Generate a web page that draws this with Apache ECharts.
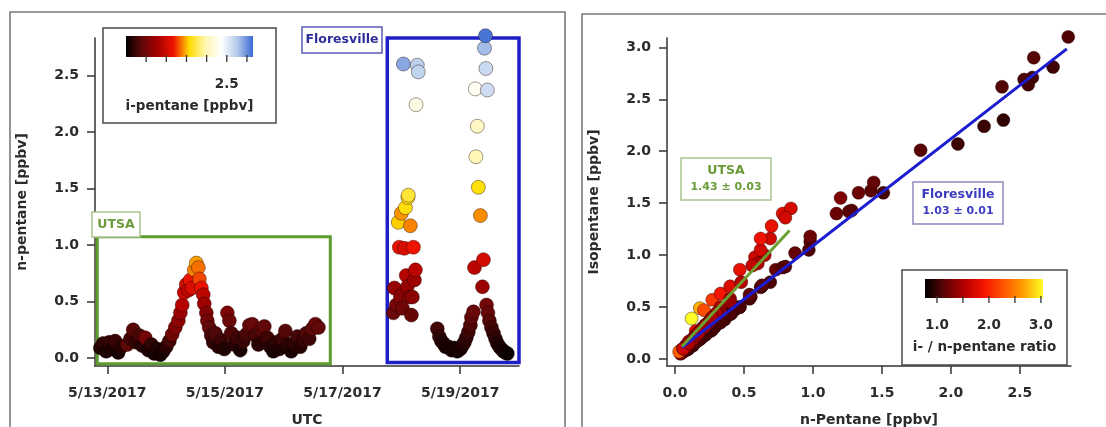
<!DOCTYPE html>
<html>
<head>
<meta charset="utf-8">
<script src="https://cdn.jsdelivr.net/npm/echarts@6/dist/echarts.min.js"></script>
<style>
  html, body { margin: 0; padding: 0; background: #fff; }
  #chart { width: 1106px; height: 427px; }
</style>
</head>
<body>
<div id="chart"></div>
<script>
// ---------- UTSA site: time (UTC, 2017), n-pentane and i-pentane [ppbv] ----------
const utsaTime = ['05-12 21:10','05-12 22:20','05-12 23:35','05-13 00:50','05-13 02:00','05-13 03:15','05-13 04:30','05-13 05:45',
  '05-13 08:10','05-13 09:25','05-13 10:35','05-13 11:50','05-13 13:05','05-13 14:15','05-13 15:30','05-13 16:45','05-13 18:00','05-13 19:10','05-13 20:25','05-13 21:40','05-13 22:50',
  '05-14 00:05','05-14 01:20','05-14 02:30','05-14 03:45','05-14 05:00','05-14 05:50','05-14 06:35','05-14 07:25','05-14 08:15','05-14 09:05','05-14 09:50','05-14 10:40','05-14 11:30','05-14 12:20','05-14 13:10','05-14 13:35','05-14 14:25','05-14 15:10','05-14 15:35','05-14 16:25','05-14 16:50','05-14 17:35','05-14 18:25','05-14 19:15','05-14 20:05','05-14 21:20','05-14 22:30','05-14 23:45',
  '05-15 01:00','05-15 01:50','05-15 02:35','05-15 03:50','05-15 05:05','05-15 06:15','05-15 07:30','05-15 08:45','05-15 10:00','05-15 11:10','05-15 12:25','05-15 13:40','05-15 14:50','05-15 16:05','05-15 17:20','05-15 18:30','05-15 19:45','05-15 21:00','05-15 22:10','05-15 23:25','05-16 00:40','05-16 01:55','05-16 03:05','05-16 04:20','05-16 05:35','05-16 06:45','05-16 08:00','05-16 09:15','05-16 10:25','05-16 11:40','05-16 12:55','05-16 14:10'];
const utsaN = [0.09,0.13,0.06,0.14,0.08,0.15,0.05,0.10,
  0.12,0.17,0.25,0.14,0.20,0.11,0.18,0.07,0.12,0.04,0.08,0.03,0.06,
  0.10,0.15,0.21,0.27,0.33,0.40,0.47,0.58,0.65,0.60,0.69,0.62,0.78,0.84,0.80,0.70,0.62,0.56,0.48,0.40,0.33,0.27,0.20,0.14,0.22,0.10,0.16,0.08,
  0.40,0.33,0.22,0.12,0.18,0.07,0.15,0.21,0.29,0.30,0.20,0.12,0.25,0.28,0.18,0.10,0.06,0.14,0.08,0.17,0.24,0.12,0.06,0.13,0.19,0.10,0.16,0.22,0.17,0.26,0.30,0.27];
const utsaI = [0.13,0.19,0.10,0.21,0.12,0.22,0.09,0.15,
  0.39,0.26,0.36,0.20,0.29,0.16,0.49,0.11,0.18,0.08,0.13,0.07,0.10,
  0.17,0.27,0.47,0.57,0.63,0.70,0.86,0.98,1.00,0.92,1.16,1.05,1.40,1.45,1.36,1.28,1.16,0.90,0.74,0.58,0.50,0.40,0.30,0.21,0.33,0.15,0.24,0.13,
  0.55,0.45,0.31,0.17,0.26,0.11,0.22,0.30,0.41,0.44,0.29,0.17,0.35,0.40,0.26,0.15,0.10,0.20,0.12,0.25,0.35,0.18,0.10,0.19,0.28,0.15,0.23,0.32,0.25,0.38,0.44,0.40];

// ---------- Floresville site ----------
const floresTime = ['05-17 20:45','05-17 21:10','05-17 21:55','05-17 22:45','05-17 23:10','05-17 23:35','05-18 00:00','05-18 00:25','05-18 00:50','05-18 01:15','05-18 01:40','05-18 02:00','05-18 02:25','05-18 02:40','05-18 02:50','05-18 03:15','05-18 03:40','05-18 04:05','05-18 04:30','05-18 04:55','05-18 05:20','05-18 05:45','05-18 06:00','05-18 06:30','05-18 06:55',
  '05-18 14:40','05-18 15:30','05-18 16:20','05-18 17:10','05-18 18:00','05-18 19:10','05-18 20:25','05-18 21:40','05-18 22:50','05-19 00:05','05-19 00:55','05-19 01:45','05-19 02:30','05-19 03:20','05-19 04:10','05-19 04:35','05-19 05:25',
  '05-19 05:50','05-19 06:10','05-19 06:25','05-19 07:00','05-19 07:25','05-19 08:15','05-19 09:05','05-19 09:30','05-19 09:55','05-19 10:20','05-19 10:30','05-19 10:45','05-19 11:05','05-19 11:20','05-19 11:55','05-19 12:45','05-19 13:35','05-19 14:25','05-19 15:10','05-19 16:00','05-19 16:50','05-19 17:40','05-19 18:25','05-19 19:15'];
const floresN = [0.40,0.62,0.47,1.20,0.98,0.55,1.28,0.44,2.60,0.97,1.33,0.73,0.63,1.42,1.44,0.54,1.17,0.38,0.54,0.98,0.69,0.78,2.24,2.59,2.53,
  0.26,0.19,0.15,0.13,0.10,0.10,0.07,0.09,0.06,0.08,0.11,0.14,0.18,0.23,0.29,0.36,0.41,
  0.80,2.38,1.78,2.05,1.51,1.26,0.63,0.87,2.74,2.85,2.56,0.47,2.37,0.40,0.33,0.27,0.22,0.17,0.13,0.10,0.08,0.06,0.05,0.04];
const floresI = [0.45,0.69,0.50,1.55,1.13,0.60,1.43,0.48,2.90,1.05,1.60,0.86,0.70,1.62,1.70,0.58,1.40,0.42,0.62,1.18,0.74,0.88,2.24,2.71,2.69,
  0.27,0.20,0.16,0.13,0.11,0.10,0.08,0.09,0.07,0.09,0.12,0.15,0.19,0.25,0.31,0.38,0.44,
  0.89,2.30,2.01,2.07,1.60,1.42,0.71,1.02,2.81,3.10,2.64,0.50,2.62,0.43,0.35,0.28,0.23,0.18,0.14,0.11,0.09,0.07,0.06,0.05];

// ---------- linear fits of i-pentane vs n-pentane ----------
const fitNames = ['UTSA', 'Floresville'];
const fitSlopes = [1.43, 1.03];
const fitErrors = [0.03, 0.01];
const fitIntercepts = [0.05, 0.06];
const fitRanges = [[0.05, 0.83], [0.05, 2.84]];

// ---------- axis ticks ----------
const dateTicks = ['05-13 00:00', '05-15 00:00', '05-17 00:00', '05-19 00:00'];
const nPentaneTicks = [0, 0.5, 1.0, 1.5, 2.0, 2.5];
const isoTicks = [0, 0.5, 1.0, 1.5, 2.0, 2.5, 3.0];
const ratioTicks = [1.0, 1.5, 2.0, 2.5, 3.0];
const ratioTickLabels = [1.0, 2.0, 3.0];
const iPentTicks = [0.5, 1.0, 1.5, 2.0, 2.5, 3.0];
const iPentTickLabels = [2.5];

// ---------- colour scales ----------
const iPentRange = [0, 3.15];
const iPentColors = ['#000000', '#600808', '#a80000', '#ee1500', '#ffdd00', '#fff6b0', '#ffffff', '#b4cbea', '#3a68d4'];
const ratioRange = [0.77, 3.04];
const ratioColors = ['#000000', '#5e0404', '#b40000', '#f51400', '#ff5500', '#ffa000', '#ffff28'];

// ---------- annotation boxes on the time series ----------
const utsaBox = [['05-12 19:55', -0.05], ['05-16 19:00', 1.073]];
const floresBox = [['05-17 18:15', -0.04], ['05-20 00:00', 2.94]];

const parseT = s => {
  const [md, hm] = s.split(' ');
  const [mo, d] = md.split('-').map(Number);
  const [h, m] = hm.split(':').map(Number);
  return Date.UTC(2017, mo - 1, d, h, m);
};
const fmtDate = v => { const d = new Date(v); return (d.getUTCMonth() + 1) + '/' + d.getUTCDate() + '/' + d.getUTCFullYear(); };

const FONT = 'DejaVu Sans';
const TXT = '#2b2b2b';
const AX = '#333';

const tsData = (T, N, I) => T.map((t, k) => [parseT(t), N[k], I[k]]);
const scData = (N, I) => N.map((n, k) => [n, I[k], I[k] / n]);
const fitLine = k => fitRanges[k].map(x => [x, fitSlopes[k] * x + fitIntercepts[k]]);

const axisLabel = (vals, fmt, margin) => ({
  customValues: vals, formatter: fmt, margin: margin,
  fontFamily: FONT, fontWeight: 'bold', fontSize: 14, color: TXT
});
const axisCommon = {
  axisLine: { show: true, onZero: false, lineStyle: { color: AX, width: 1.5 } },
  splitLine: { show: false },
  nameTextStyle: { fontFamily: FONT, fontWeight: 'bold', fontSize: 14, color: TXT },
  nameLocation: 'middle'
};

const symStyle = { borderColor: 'rgba(30,0,0,0.5)', borderWidth: 0.8, opacity: 1 };

// colour-bar legend drawn from the same colour list used by visualMap
function colorBar(x, y, w, h, colors, range, ticks, labels, title, box) {
  const els = [];
  els.push({ type: 'rect', z: 100, shape: { x: box[0], y: box[1], width: box[2], height: box[3] },
    style: { fill: '#fff', stroke: '#4a4a4a', lineWidth: 1.5 } });
  els.push({ type: 'rect', z: 101, shape: { x: x, y: y, width: w, height: h },
    style: { fill: { type: 'linear', x: 0, y: 0, x2: 1, y2: 0,
      colorStops: colors.map((c, k) => ({ offset: k / (colors.length - 1), color: c })) } } });
  const px = v => x + (v - range[0]) / (range[1] - range[0]) * w;
  ticks.forEach(v => els.push({ type: 'line', z: 101, shape: { x1: px(v), y1: y + h - 2, x2: px(v), y2: y + h + 5 },
    style: { stroke: '#333', lineWidth: 1.3 } }));
  labels.forEach(v => els.push({ type: 'text', z: 102, style: { text: v.toFixed(1), x: px(v), y: y + h + 27,
    font: 'bold 13.5px "DejaVu Sans"', fill: TXT, align: 'center', verticalAlign: 'middle', textAlign: 'center', textVerticalAlign: 'middle' } }));
  els.push({ type: 'text', z: 102, style: { text: title, x: box[0] + box[2] / 2, y: y + h + 49,
    font: 'bold 13.5px "DejaVu Sans"', fill: TXT, align: 'center', verticalAlign: 'middle', textAlign: 'center', textVerticalAlign: 'middle' } });
  return els;
}

function tagBox(x, y, w, h, lines, color, border, sizes) {
  const els = [{ type: 'rect', z: 100, shape: { x: x, y: y, width: w, height: h },
    style: { fill: '#fff', stroke: border, lineWidth: 1.5 } }];
  const step = h / lines.length;
  lines.forEach((t, k) => els.push({ type: 'text', z: 101, style: { text: t, x: x + w / 2, y: y + step * (k + 0.5) + (lines.length > 1 ? (k === 0 ? 2 : -2) : 0),
    font: 'bold ' + sizes[k] + 'px "DejaVu Sans"', fill: color, align: 'center', verticalAlign: 'middle', textAlign: 'center', textVerticalAlign: 'middle' } }));
  return els;
}

const graphics = [].concat(
  // panel frames
  [{ type: 'rect', z: 0, shape: { x: 10, y: 12, width: 555, height: 440 }, style: { fill: 'none', stroke: '#7a7a7a', lineWidth: 1.6 } },
   { type: 'rect', z: 0, shape: { x: 582, y: 14, width: 540, height: 440 }, style: { fill: 'none', stroke: '#7a7a7a', lineWidth: 1.6 } }],
  colorBar(126, 36, 127, 21, iPentColors, iPentRange, iPentTicks, iPentTickLabels, 'i-pentane [ppbv]', [103, 28, 173, 95]),
  colorBar(925, 279, 118, 19, ratioColors, ratioRange, ratioTicks, ratioTickLabels, 'i- / n-pentane ratio', [902, 270, 165, 95]),
  tagBox(92, 212, 48, 25, ['UTSA'], '#6b9b3a', '#a9c48a', [12.5]),
  tagBox(302, 27, 80, 26, ['Floresville'], '#2d2d9a', '#5a5ab8', [12.5]),
  tagBox(681, 158, 90, 42, [fitNames[0], fitSlopes[0].toFixed(2) + ' \u00b1 ' + fitErrors[0].toFixed(2)], '#6b9b3a', '#a9c48a', [12.5, 11]),
  tagBox(913, 182, 90, 42, [fitNames[1], fitSlopes[1].toFixed(2) + ' \u00b1 ' + fitErrors[1].toFixed(2)], '#3c3cc0', '#8a8ac0', [12.5, 11])
);

const option = {
  animation: false,
  backgroundColor: '#fff',
  grid: [
    { left: 95, top: 38, width: 424, height: 328, outerBoundsMode: 'none', containLabel: false },
    { left: 667, top: 38, width: 404, height: 328, outerBoundsMode: 'none', containLabel: false }
  ],
  xAxis: [
    Object.assign({}, axisCommon, {
      type: 'value', gridIndex: 0, min: parseT('05-12 19:00'), max: parseT('05-20 00:00'),
      name: 'UTC', nameGap: 47,
      axisTick: { show: true, customValues: dateTicks.map(parseT), length: 8, lineStyle: { color: AX, width: 1.5 } },
      axisLabel: axisLabel(dateTicks.map(parseT), fmtDate, 20)
    }),
    Object.assign({}, axisCommon, {
      type: 'value', gridIndex: 1, min: -0.058, max: 2.87,
      name: 'n-Pentane [ppbv]', nameGap: 47,
      axisTick: { show: true, customValues: nPentaneTicks, length: 8, lineStyle: { color: AX, width: 1.5 } },
      axisLabel: axisLabel(nPentaneTicks, v => v.toFixed(1), 20)
    })
  ],
  yAxis: [
    Object.assign({}, axisCommon, {
      type: 'value', gridIndex: 0, min: -0.07, max: 2.83,
      name: 'n-pentane [ppbv]', nameGap: 66,
      axisTick: { show: true, customValues: nPentaneTicks, length: 8, lineStyle: { color: AX, width: 1.5 } },
      axisLabel: axisLabel(nPentaneTicks, v => v.toFixed(1), 16)
    }),
    Object.assign({}, axisCommon, {
      type: 'value', gridIndex: 1, min: -0.067, max: 3.09,
      name: 'Isopentane [ppbv]', nameGap: 66,
      axisTick: { show: true, customValues: isoTicks, length: 8, lineStyle: { color: AX, width: 1.5 } },
      axisLabel: axisLabel(isoTicks, v => v.toFixed(1), 16)
    })
  ],
  visualMap: [
    { type: 'continuous', show: false, dimension: 2, seriesIndex: [0, 1], min: iPentRange[0], max: iPentRange[1], inRange: { color: iPentColors } },
    { type: 'continuous', show: false, dimension: 2, seriesIndex: [2, 3], min: ratioRange[0], max: ratioRange[1], inRange: { color: ratioColors } }
  ],
  series: [
    { type: 'scatter', xAxisIndex: 0, yAxisIndex: 0, clip: false, symbolSize: 14, itemStyle: symStyle,
      data: tsData(utsaTime, utsaN, utsaI),
      markArea: { silent: true, label: { show: false }, itemStyle: { color: 'rgba(0,0,0,0)', borderColor: '#5b9b2f', borderWidth: 3 },
        data: [[{ coord: [parseT(utsaBox[0][0]), utsaBox[0][1]] }, { coord: [parseT(utsaBox[1][0]), utsaBox[1][1]] }]] } },
    { type: 'scatter', xAxisIndex: 0, yAxisIndex: 0, clip: false, symbolSize: 14, itemStyle: symStyle,
      data: tsData(floresTime, floresN, floresI),
      markArea: { silent: true, label: { show: false }, itemStyle: { color: 'rgba(0,0,0,0)', borderColor: '#1f1fc8', borderWidth: 3.5 },
        data: [[{ coord: [parseT(floresBox[0][0]), floresBox[0][1]] }, { coord: [parseT(floresBox[1][0]), floresBox[1][1]] }]] } },
    { type: 'scatter', xAxisIndex: 1, yAxisIndex: 1, clip: false, symbolSize: 13, itemStyle: symStyle,
      data: scData(floresN, floresI) },
    { type: 'scatter', xAxisIndex: 1, yAxisIndex: 1, clip: false, symbolSize: 13, itemStyle: symStyle,
      data: scData(utsaN, utsaI) },
    { type: 'line', xAxisIndex: 1, yAxisIndex: 1, z: 5, showSymbol: false, symbol: 'none',
      lineStyle: { color: '#1c1cd0', width: 3 }, data: fitLine(1) },
    { type: 'line', xAxisIndex: 1, yAxisIndex: 1, z: 5, showSymbol: false, symbol: 'none',
      lineStyle: { color: '#6aa030', width: 3 }, data: fitLine(0) }
  ],
  graphic: { elements: graphics }
};

const chart = echarts.init(document.getElementById('chart'), null, { renderer: 'canvas' });
chart.setOption(option);
</script>
</body>
</html>
